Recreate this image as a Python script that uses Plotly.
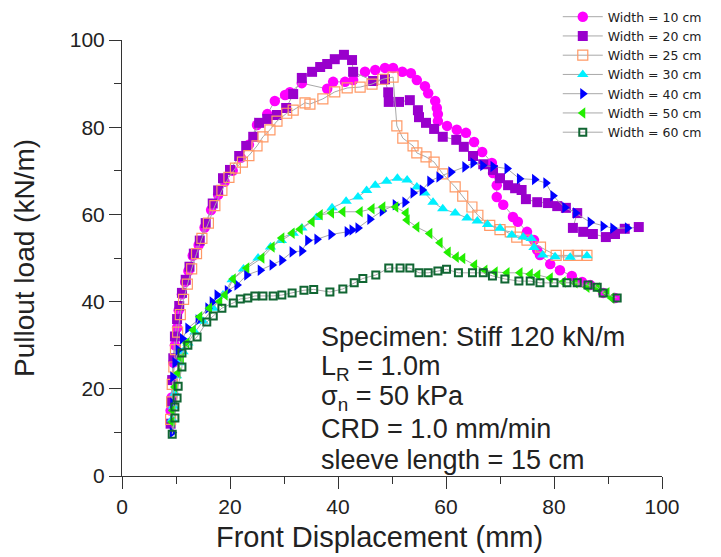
import plotly.graph_objects as go

# ---------------- data ----------------
w10_x = [9.0, 9.2, 9.3, 9.5, 9.8, 10.2, 10.5, 11.1, 11.7, 12.3, 13.1, 14.2, 15.3, 16.5, 17.8, 19.0, 20.5, 22.0, 23.5, 25.0, 26.9, 28.3, 30.2, 31.1, 33.3, 38.0, 39.1, 41.3, 42.8, 45.0, 46.9, 48.7, 50.2, 51.9, 53.5, 54.6, 56.1, 56.7, 58.0, 58.3, 58.5, 58.5, 60.2, 62.0, 63.7, 65.2, 66.7, 68.5, 68.7, 69.4, 69.4, 70.6, 72.4, 73.3, 75.0, 76.3, 76.9, 77.4, 79.3, 81.1, 83.3, 85.2, 86.7, 89.1, 91.3]
w10_y = [15, 18, 22, 26, 30, 34, 38, 41.7, 44.5, 47, 50.5, 53, 57, 61, 64.5, 67.5, 70, 73, 76, 80.5, 83, 86, 87.4, 88, 90.1, 88.8, 90.4, 90.4, 90.8, 92.7, 93.1, 93.6, 93.6, 92.7, 92.4, 90.8, 89.4, 87.8, 86, 84.4, 83, 81.4, 80.3, 79.4, 78.7, 76.6, 74.3, 71.8, 69.5, 66.7, 64, 62.2, 59.4, 58.3, 56, 54.1, 51.8, 50.7, 48.6, 47.2, 45.9, 44.5, 43.8, 42, 40.8]

w20_x = [9.0, 9.1, 9.3, 9.5, 9.8, 10.2, 10.6, 11.1, 11.8, 12.5, 13.3, 14.4, 15.5, 16.8, 17.8, 18.7, 20.0, 21.7, 23.0, 24.3, 25.4, 26.9, 28.7, 30.4, 31.7, 33.3, 35.2, 36.7, 38.0, 39.4, 41.1, 42.6, 42.8, 46.5, 48.7, 49.3, 49.4, 51.3, 53.3, 54.8, 55.0, 56.3, 57.8, 59.4, 61.9, 63.3, 65.0, 66.9, 68.7, 70.0, 71.5, 72.8, 74.0, 74.8, 76.9, 78.9, 80.6, 82.2, 84.3, 83.5, 85.4, 87.2, 89.6, 91.3, 93.1, 95.7]
w20_y = [12, 17, 22, 27, 32, 36, 39, 42, 45, 48, 51, 54, 58, 62.5, 65.5, 68.3, 70.2, 73.4, 75.7, 77.8, 81, 81.9, 82.8, 84.4, 87.6, 91.3, 92.7, 93.8, 94.5, 95.6, 96.6, 95.4, 92.7, 90.6, 91, 88, 85.8, 85.8, 86.2, 83.9, 82.3, 81, 79.6, 77.8, 77.1, 75.5, 73.4, 71.5, 70.2, 68.3, 66.7, 66, 65.6, 63.5, 62.8, 62.6, 61.9, 61.5, 60.3, 56.9, 56, 55.5, 54.8, 55.5, 56.7, 57.1]

w25_x = [9.0, 9.2, 9.3, 9.6, 9.9, 10.3, 10.8, 11.4, 12.1, 12.9, 13.8, 14.8, 16.0, 17.2, 18.5, 19.8, 21.0, 22.3, 23.5, 25.0, 26.1, 27.4, 28.7, 30.5, 31.7, 33.9, 34.8, 37.2, 39.4, 41.7, 44.1, 46.3, 48.3, 50.2, 50.9, 52.0, 53.9, 54.6, 56.3, 57.8, 59.4, 61.7, 63.1, 64.8, 65.9, 68.1, 70.0, 71.9, 73.1, 75.0, 77.5, 80.4, 82.7, 84.3, 86.1]
w25_y = [13, 17, 21, 25, 29, 33, 37, 40.5, 44, 47.5, 51, 54.5, 58, 62, 65.5, 68.5, 70.6, 72, 73.5, 75.7, 77.8, 79.4, 81.4, 83.2, 83.9, 85.6, 85.3, 86.5, 88.1, 89, 89.2, 89.9, 91, 91.5, 80.3, 77.5, 75.7, 74.1, 73.2, 72, 69.3, 66.3, 64.2, 61.7, 59.8, 57.5, 56.5, 56, 54.8, 54.1, 52.5, 50.6, 50.6, 50.6, 50.6]

w30_x = [9.3, 9.5, 9.8, 10.1, 10.6, 11.3, 12.2, 13.5, 15.0, 16.9, 18.7, 20.4, 22.5, 25.2, 27.5, 29.5, 31.7, 33.3, 36.0, 38.9, 41.5, 43.7, 45.3, 46.9, 49.0, 51.0, 52.8, 54.6, 56.1, 57.6, 59.4, 61.7, 63.9, 65.8, 67.7, 70.0, 72.2, 74.3, 75.8, 76.3, 77.9, 80.2, 83.0, 86.1]
w30_y = [13, 16, 19, 23, 26, 28.5, 30.5, 33, 35.5, 38.5, 41.5, 45, 47.5, 50, 52.5, 54, 55.7, 56.9, 59.3, 61.5, 63, 64, 65.5, 66.7, 67.6, 68.3, 67.9, 66.3, 64.9, 62.8, 61.3, 60.3, 59.2, 58.5, 57.7, 56.8, 55.3, 54.8, 54.5, 52.4, 50.7, 50.3, 50.2, 50.5]

w40_x = [9.3, 9.4, 9.4, 9.8, 10.4, 11.2, 12.2, 14.1, 15.9, 16.7, 17.6, 19.5, 21.3, 23.1, 25.6, 27.8, 29.6, 31.5, 33.3, 34.4, 36.1, 38.7, 41.7, 42.6, 43.7, 45.9, 48.2, 50.6, 52.4, 53.9, 55.6, 57.0, 58.7, 60.9, 63.5, 65.0, 66.8, 68.7, 71.3, 73.6, 76.4, 78.5, 79.8, 82.0, 84.0, 86.7, 89.1, 90.9, 93.6]
w40_y = [10, 16.7, 22.7, 26, 28.9, 31.5, 33.9, 35.8, 38.5, 39.9, 41.5, 42.5, 43.8, 46.1, 47.2, 48.4, 49.5, 51.4, 51.6, 54, 54.3, 55.4, 56, 56.4, 56.9, 58.9, 60.8, 62.2, 62.8, 64.9, 65.6, 67.6, 68.6, 69.7, 70.9, 71.8, 71.2, 71, 70.5, 68.2, 68, 67.2, 64.3, 61.6, 60.3, 58.2, 57.3, 56.8, 56.9]

w50_x = [9.3, 9.4, 9.8, 10.4, 11.0, 12.0, 13.2, 14.4, 16.2, 18.1, 19.1, 20.6, 23.1, 25.9, 27.8, 29.6, 31.5, 33.0, 35.2, 36.7, 38.8, 40.9, 44.1, 46.3, 48.3, 50.7, 52.6, 52.8, 54.6, 57.0, 58.9, 60.4, 61.9, 63.1, 65.3, 67.2, 69.1, 71.3, 73.7, 75.6, 77.0, 79.3, 81.7, 83.9, 86.1, 88.0, 89.8, 90.7]
w50_y = [12.4, 15, 20.4, 23.6, 27, 30.5, 33.5, 36.5, 38.5, 40, 41.5, 45.2, 47.7, 50, 52.5, 54.6, 55.7, 56.6, 58.3, 59.9, 60.3, 60.6, 60.6, 61.3, 61.7, 61.7, 60.3, 58.7, 57.1, 55.6, 53.5, 51.3, 50.2, 49.9, 48.4, 47.2, 46.8, 46.6, 46.6, 46.3, 46.1, 45.4, 44.5, 44.3, 43.3, 43.1, 42, 40.8]

w60_x = [9.3, 9.8, 9.8, 10.2, 10.4, 11.1, 11.1, 12.2, 13.9, 15.7, 16.9, 18.5, 20.6, 21.9, 23.3, 24.6, 26.1, 28.0, 29.6, 31.5, 33.7, 35.5, 38.5, 40.9, 43.0, 44.6, 47.0, 49.4, 51.5, 53.3, 55.0, 56.7, 58.5, 60.1, 62.3, 64.9, 66.9, 68.6, 70.9, 73.5, 75.6, 77.4, 80.0, 82.4, 84.3, 86.3, 88.0, 89.1, 91.7]
w60_y = [9.6, 13.3, 15.8, 17.9, 20.6, 25, 28.2, 30, 31.9, 35.3, 36.7, 38.5, 39.7, 40.6, 40.8, 41.3, 41.3, 41.3, 41.5, 42, 42.6, 42.8, 42.2, 42.9, 44.3, 45.3, 46.1, 47.7, 47.7, 47.7, 46.6, 46.6, 47, 47.4, 46.6, 46.6, 46.6, 45.9, 45.2, 44.7, 44.7, 44.3, 44.3, 44.3, 44.3, 43.8, 43.3, 42, 40.8]

series_names = ["Width = 10 cm", "Width = 20 cm", "Width = 25 cm", "Width = 30 cm",
                "Width = 40 cm", "Width = 50 cm", "Width = 60 cm"]

x_ticks = [0, 20, 40, 60, 80, 100]
y_ticks = [0, 20, 40, 60, 80, 100]

x_title = "Front Displacement (mm)"
y_title = "Pullout load (kN/m)"

info_lines = ["Specimen: Stiff 120 kN/m",
              "L<sub>R</sub> = 1.0m",
              "σ<sub>n</sub> = 50 kPa",
              "CRD = 1.0 mm/min",
              "sleeve length = 15 cm"]

# ---------------- styles ----------------
FONT = "Arial, Liberation Sans, sans-serif"
WIDE = "DejaVu Sans, Verdana, sans-serif"
TXT = "#222222"
LINE_COLOR = "#a8a8a8"
styles = [
    dict(symbol="circle", size=10.5, color="#ff00ff", line=dict(width=0)),
    dict(symbol="square", size=10, color="#9900cc", line=dict(width=0)),
    dict(symbol="square-open", size=10, color="#ff9966", line=dict(width=1.2)),
    dict(symbol="triangle-up", size=10, color="#00f0ff", line=dict(width=0)),
    dict(symbol="triangle-right", size=10, color="#0000ff", line=dict(width=0)),
    dict(symbol="triangle-left", size=10, color="#22ee00", line=dict(width=0)),
    dict(symbol="square-open", size=7, color="#116633", line=dict(width=2)),
]

xs = [w10_x, w20_x, w25_x, w30_x, w40_x, w50_x, w60_x]
ys = [w10_y, w20_y, w25_y, w30_y, w40_y, w50_y, w60_y]

fig = go.Figure()
for name, x, y, st in zip(series_names, xs, ys, styles):
    fig.add_trace(go.Scatter(
        x=x, y=y, name=name, mode="lines+markers",
        line=dict(color=LINE_COLOR, width=1),
        marker=st,
    ))

for i, txt in enumerate(info_lines):
    fig.add_annotation(
        x=0.365, y=0.319 - i * 0.0705, xref="paper", yref="paper",
        text=txt, showarrow=False, xanchor="left", yanchor="middle",
        font=dict(family=FONT, size=27, color=TXT),
    )

# x-axis title (slightly left of the plot centre, as in the reference)
fig.add_annotation(
    x=0.476, y=-0.14, xref="paper", yref="paper", text=x_title,
    showarrow=False, xanchor="center", yanchor="middle",
    font=dict(family=FONT, size=29, color=TXT),
)

axis_common = dict(
    showgrid=False, zeroline=False, showline=True, linecolor="#333333", linewidth=1,
    ticks="outside", ticklen=12, tickcolor="#333333", tickwidth=1,
    tickfont=dict(family=FONT, size=21, color=TXT),
    minor=dict(ticks="outside", ticklen=7, tickcolor="#333333", dtick=10, showgrid=False),
)

fig.update_xaxes(range=[0, 100], tickvals=x_ticks, **axis_common)
fig.update_yaxes(range=[0, 100], tickvals=y_ticks, **axis_common,
                 title=dict(text=y_title, font=dict(family=FONT, size=28, color=TXT), standoff=26))

# page body adds an 8 px offset, so the figure is sized 8 px smaller
fig.update_layout(
    width=713, height=549,
    margin=dict(l=114, r=59, t=32, b=81, autoexpand=False),
    plot_bgcolor="white", paper_bgcolor="white",
    legend=dict(x=0.807, y=1.087, xanchor="left", yanchor="top",
                font=dict(family=WIDE, size=12.5, color=TXT),
                bgcolor="rgba(255,255,255,0)", tracegroupgap=0, itemwidth=40),
    showlegend=True,
)

fig.write_html("out.html")
